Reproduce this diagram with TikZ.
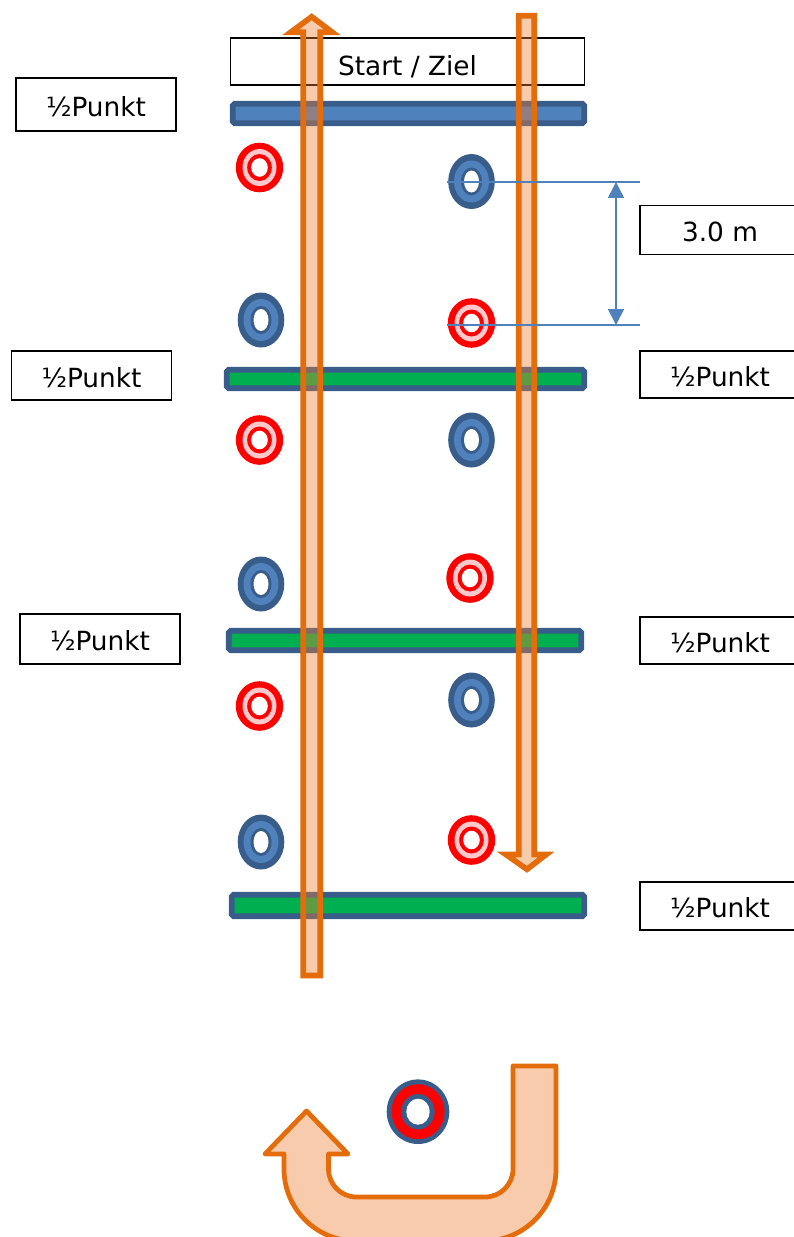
\documentclass[tikz,border=0pt]{standalone}
\usepackage{fontspec}
\setmainfont{DejaVu Sans}
\usetikzlibrary{arrows.meta}
\definecolor{barblue}{HTML}{4F81BD}
\definecolor{darkblue}{HTML}{385D8A}
\definecolor{bargreen}{HTML}{00B050}
\definecolor{laneline}{HTML}{E46C0A}
\definecolor{lanefill}{HTML}{ED7D31}
\definecolor{ringpink}{HTML}{FFC9CC}
\begin{document}
\begin{tikzpicture}[x=0.02cm,y=0.02cm,
    font=\fontsize{15}{18}\selectfont,
    infobox/.style={draw=black,fill=white,line width=0.6pt,inner sep=0pt,
      minimum width=3.2cm,minimum height=0.98cm,text height=13.5pt,text depth=0pt},
    bar/.style={draw=darkblue,line width=3.2pt,rounded corners=1pt},
    lane/.style={draw=laneline,line width=3.2pt,fill=lanefill,fill opacity=0.4,
      line join=miter},
    redring/.pic={
      \fill[red] (0,0) ellipse (23.7 and 24.8);
      \fill[ringpink] (0,0) ellipse (17 and 18.5);
      \fill[red] (0,0) ellipse (12.3 and 13.5);
      \fill[white] (0,0) ellipse (8.3 and 9.3);},
    bluering/.pic={
      \fill[darkblue] (0,0) ellipse (23.3 and 27.5);
      \fill[barblue] (0,0) ellipse (17.5 and 21);
      \fill[darkblue] (0,0) ellipse (10.5 and 14);
      \fill[white] (0,0) ellipse (7.5 and 11);},
    dim/.style={draw=barblue,line width=0.9pt}]
  \useasboundingbox (0,0) rectangle (794,-1237);
  % bars
  \draw[bar,fill=barblue] (232.8,-103.8) rectangle (584.2,-123.2);
  \draw[bar,fill=bargreen] (226.8,-369.8) rectangle (584.2,-388.2);
  \draw[bar,fill=bargreen] (228.8,-630.8) rectangle (581.2,-650.2);
  \draw[bar,fill=bargreen] (231.8,-894.8) rectangle (584.2,-916.2);
  \node[infobox,minimum width=7.1cm,minimum height=0.94cm,text height=15.5pt] (start)
    at (407.5,-61.5) {Start / Ziel};
  % rings
  \foreach \x/\y in {259.5/-167.5,471.5/-323,259.5/-440,470/-578,259.5/-706,471.5/-840}
    \pic at (\x,\y) {redring};
  \foreach \x/\y in {471.5/-181.5,261/-320,471.5/-440,261/-584,471.5/-700,261/-842}
    \pic at (\x,\y) {bluering};
  % lanes
  \draw[lane] (303.3,-975.5) -- (303.3,-32.2) -- (290.8,-32.2) -- (311.7,-16.7)
    -- (332.2,-32.2) -- (320.2,-32.2) -- (320.2,-975.5) -- cycle;
  \draw[lane] (518.8,-15.8) -- (518.8,-854.5) -- (505.8,-854.5) -- (527,-869.3)
    -- (546.2,-854.5) -- (534.2,-854.5) -- (534.2,-15.8) -- cycle;
  % turn
  \draw[lane,line width=2.7pt,line join=round] (513,-1066) -- (556,-1066) -- (556,-1169)
    arc[start angle=0,end angle=-90,radius=72] -- (356,-1241)
    arc[start angle=270,end angle=180,radius=72] -- (284,-1154) -- (265,-1154)
    -- (306.5,-1111) -- (348,-1154) -- (328.5,-1154) -- (328.5,-1169)
    arc[start angle=180,end angle=270,radius=28] -- (485,-1197)
    arc[start angle=270,end angle=360,radius=28] -- cycle;
  \fill[darkblue] (418,-1111.7) ellipse (31.3 and 32.3);
  \fill[red] (418,-1111.7) ellipse (26.5 and 27.5);
  \fill[darkblue] (418,-1111.7) ellipse (16.7 and 17.7);
  \fill[white] (418,-1111.7) ellipse (11.7 and 13);
  % distance
  \coordinate (m1) at (447,-182);
  \coordinate (m2) at (447,-325);
  \coordinate (m3) at (640,-182);
  \coordinate (m4) at (640,-325);
  \coordinate (d1) at (616,-182);
  \coordinate (d2) at (616,-325);
  \draw[dim] (m1) -- (m3);
  \draw[dim] (m2) -- (m4);
  \draw[dim,{Triangle[width=9pt,length=9pt]}-{Triangle[width=9pt,length=9pt]}]
    (d1) -- (d2);
  \node[infobox] (dist) at (720,-230) {3.0 m};
  % half points
  \node[infobox,minimum height=1.06cm] (hp1) at (96,-104.5) {½Punkt};
  \node[infobox] (hp2) at (91.5,-375.5) {½Punkt};
  \node[infobox,minimum height=1cm] (hp3) at (100,-639) {½Punkt};
  \node[infobox,minimum height=0.94cm] (hp4) at (720,-374.5) {½Punkt};
  \node[infobox,minimum height=0.94cm] (hp5) at (720,-640.5) {½Punkt};
  \node[infobox,minimum height=0.96cm] (hp6) at (720,-906) {½Punkt};
\end{tikzpicture}
\end{document}
